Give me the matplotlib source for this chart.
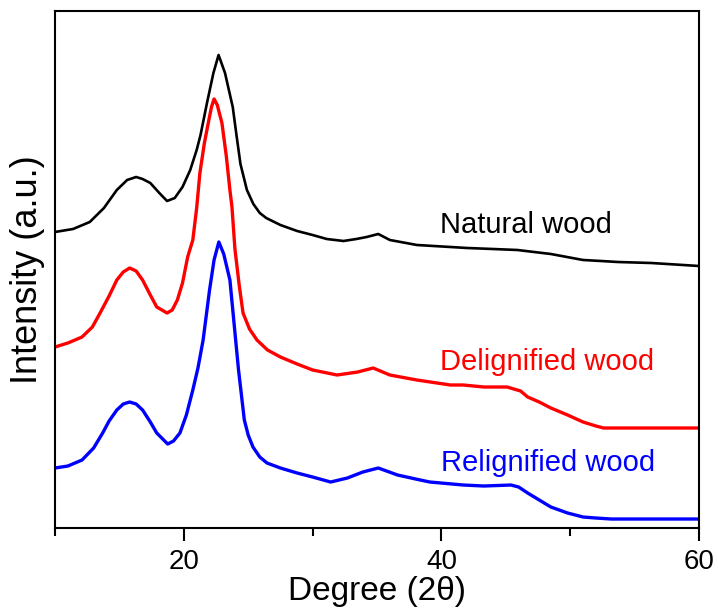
import matplotlib
matplotlib.use("Agg")
import matplotlib.pyplot as plt
from matplotlib.ticker import MultipleLocator

plt.rcParams.update({"font.family": ["Liberation Sans", "DejaVu Sans"]})

# ── data (intensity in arbitrary units) ─────────────────────────────────
natural_x = [10.0, 11.4, 12.7, 13.8, 14.8, 15.6, 16.3, 16.8, 17.4, 18.1, 18.7,
             19.3, 19.9, 20.5, 21.0, 21.3, 21.8, 22.3, 22.7, 23.2, 23.8, 24.1,
             24.4, 24.9, 25.4, 25.9, 26.4, 27.5, 28.8, 30.0, 31.1, 32.4, 33.4,
             34.2, 35.1, 36.0, 38.1, 40.7, 42.0, 44.0, 45.9, 48.5, 51.0, 52.4,
             53.7, 56.3, 60.0]
natural_y = [296, 299, 306, 320, 338, 348, 351, 349, 345, 335, 327,
             330, 341, 358, 378, 393, 425, 455, 473, 455, 421, 392,
             364, 338, 324, 315, 310, 303, 297, 293, 289, 287, 289,
             291, 294, 288, 283, 281, 280, 279, 278, 274, 268, 267,
             266, 265, 262]

delig_x = [10.0, 11.0, 12.1, 12.9, 13.5, 14.2, 14.8, 15.3, 15.8, 16.3, 16.8,
           17.4, 17.9, 18.7, 19.1, 19.5, 19.9, 20.3, 20.7, 21.0, 21.25, 21.6,
           21.9, 22.15, 22.35, 22.6, 22.96, 23.3, 23.58, 23.74, 23.97, 24.3,
           24.6, 25.1, 25.68, 26.5, 27.5, 28.8, 30.0, 31.9, 33.5, 34.7, 36.0,
           38.1, 40.7, 41.7, 43.3, 45.1, 46.15, 46.7, 47.6, 48.5, 49.8, 51.0,
           52.0, 52.6, 55.0, 60.0]
delig_y = [181, 185, 191, 201, 215, 232, 248, 256, 260, 257, 248,
           233, 221, 215, 218, 228, 245, 271, 288, 320, 355, 385,
           405, 421, 429, 423, 405, 372, 338, 321, 279, 243,
           215, 199, 188, 178, 171, 164, 158, 153, 156, 160, 153,
           148, 143, 143, 141, 141, 137, 131, 126, 120, 113, 106,
           102, 100, 100, 100]

relig_x = [10.0, 11.0, 12.1, 13.0, 13.7, 14.2, 14.8, 15.3, 15.8, 16.3, 16.8,
           17.4, 17.9, 18.75, 19.2, 19.7, 20.2, 20.7, 21.1, 21.5, 22.0, 22.35,
           22.72, 23.1, 23.58, 23.9, 24.25, 24.7, 25.0, 25.37, 25.9, 26.46,
           27.5, 28.8, 30.0, 31.4, 32.7, 33.9, 35.1, 36.6, 38.0, 39.1, 41.7,
           43.3, 45.4, 46.0, 46.7, 47.6, 48.5, 49.8, 51.0, 52.0, 53.2, 56.0,
           60.0]
relig_y = [60, 62, 68, 80, 95, 107, 118, 124, 126, 124, 118,
           106, 95, 84, 87, 95, 113, 138, 160, 188, 238, 268,
           286, 274, 248, 205, 158, 108, 93, 81, 71, 65,
           60, 55, 51, 46, 50, 56, 60, 53, 49, 46, 43,
           42, 43, 41, 35, 28, 21, 15, 11, 10, 9, 9,
           9]

labels = ["Natural wood", "Delignified wood", "Relignified wood"]
colors = ["black", "#FF0000", "#0000FF"]

# ── figure ──────────────────────────────────────────────────────────────
fig = plt.figure(figsize=(7.18, 6.10), dpi=100)
ax = fig.add_axes([0.0766, 0.1344, 0.8969, 0.8476])

ax.plot(natural_x, natural_y, color=colors[0], lw=1.9)
ax.plot(delig_x, delig_y, color=colors[1], lw=2.4)
ax.plot(relig_x, relig_y, color=colors[2], lw=2.4)

ax.text(39.9, 303, labels[0], color=colors[0], fontsize=21, va="center")
ax.text(39.9, 166, labels[1], color=colors[1], fontsize=21, va="center")
ax.text(40.0, 65, labels[2], color=colors[2], fontsize=21, va="center")

ax.set_xlim(10, 60)
ax.set_ylim(0, 517)
ax.xaxis.set_major_locator(MultipleLocator(20))
ax.xaxis.set_minor_locator(MultipleLocator(10))
ax.set_yticks([])
ax.tick_params(axis="x", which="major", direction="out", length=9, width=1.5,
               labelsize=20, pad=6)
ax.tick_params(axis="x", which="minor", direction="out", length=5.5, width=1.5)
for s in ax.spines.values():
    s.set_linewidth(1.5)

ax.set_xlabel("Degree (2θ)", fontsize=24, labelpad=1)
ax.set_ylabel("Intensity (a.u.)", fontsize=26, labelpad=7)

fig.savefig("out.png", dpi=100, facecolor="white")
